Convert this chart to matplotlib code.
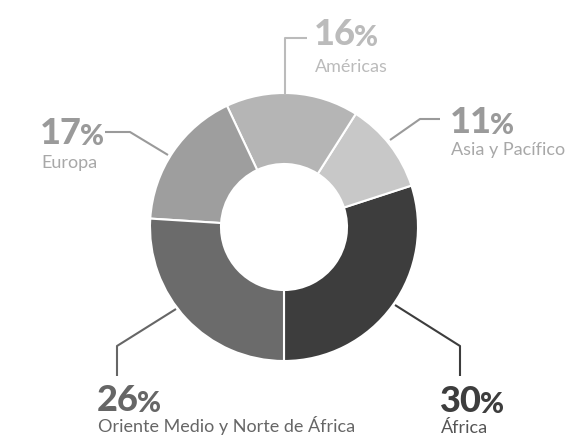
import matplotlib.pyplot as plt

# datos
regiones = ["África", "Asia y Pacífico", "Américas", "Europa", "Oriente Medio y Norte de África"]
porcentajes = [30, 11, 16, 17, 26]
colores = ["#3d3d3d", "#c8c8c8", "#b5b5b5", "#9e9e9e", "#6b6b6b"]
color_num = ["#3d3d3d", "#9a9a9a", "#bbbbbb", "#9a9a9a", "#666666"]
color_txt = ["#555555", "#a8a8a8", "#bbbbbb", "#a8a8a8", "#666666"]

W, H = 585, 445
fig = plt.figure(figsize=(W / 100, H / 100), dpi=100)
ax = fig.add_axes([0, 0, 1, 1])

def py(y):
    # de píxel (arriba-abajo) a coordenada de datos
    return H - y

# donut
ax.pie(porcentajes, colors=colores, startangle=-90, counterclock=True,
       center=(284, py(227)), radius=134, frame=True,
       wedgeprops=dict(width=71, edgecolor="white", linewidth=1.5))
ax.set_xlim(0, W)
ax.set_ylim(0, H)
ax.set_aspect("equal")
ax.axis("off")

# líneas guía (en píxeles)
guias = [
    [(395, 305), (460, 346), (460, 376)],
    [(390, 140), (420, 119), (440, 119)],
    [(285, 94), (285, 38), (307, 38)],
    [(168, 155), (130, 132), (105, 132)],
    [(176, 309), (117, 346), (117, 376)],
]
# posición de las etiquetas (x, línea base del número, línea base del texto)
etiquetas = [
    (440, 412, 433),
    (450, 133, 155),
    (314, 45, 72),
    (40, 144, 168),
    (97, 411, 432),
]

for i, reg in enumerate(regiones):
    xs = [p[0] for p in guias[i]]
    ys = [py(p[1]) for p in guias[i]]
    ax.plot(xs, ys, color=color_num[i], lw=1.5, solid_capstyle="butt")
    x, yb, yt = etiquetas[i]
    t = ax.text(x, py(yb), str(porcentajes[i]), fontsize=26, family="Lato",
                weight="black", color=color_num[i], ha="left", va="baseline")
    ax.annotate("%", xy=(1, 0), xycoords=t, xytext=(-1.5, 0), textcoords="offset points",
                fontsize=21, family="Lato", weight="black", color=color_num[i],
                ha="left", va="bottom")
    ax.text(x + 1, py(yt), reg, fontsize=13, family="Lato", color=color_txt[i],
            ha="left", va="baseline")

fig.savefig("out.png", dpi=100)
